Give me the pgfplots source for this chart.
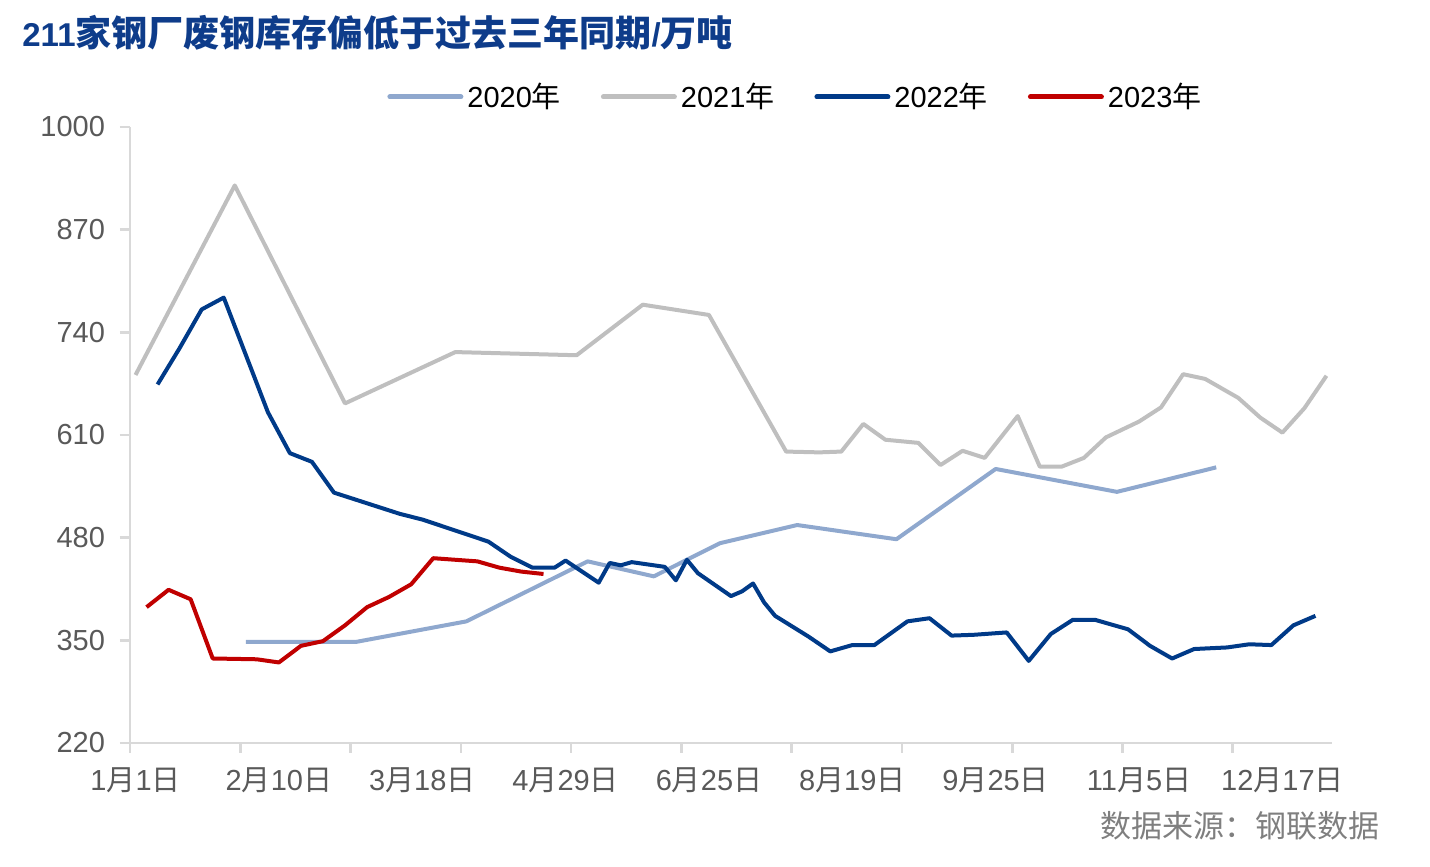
\documentclass[border=0pt]{standalone}
\usepackage{fontspec}
\setmainfont{Liberation Sans}
\newfontfamily\cjk{Noto Sans CJK SC}
\usepackage{pgfplots}
\pgfplotsset{compat=1.18}
\usepackage{pgfplotstable}
\definecolor{c20}{HTML}{8FA8CE}
\definecolor{c21}{HTML}{BFBFBF}
\definecolor{c22}{HTML}{003A88}
\definecolor{c23}{HTML}{C00000}
\definecolor{axgray}{HTML}{D9D9D9}
\definecolor{txtgray}{HTML}{595959}
\definecolor{srcgray}{HTML}{7F7F7F}
\definecolor{titleblue}{HTML}{0E3C8A}

\pgfplotstableread{
x y
10 348
20 348
30 374
41 450
47 431
53 473
60 496
69 478
78 567
89 538
98 569
}\tA
\pgfplotstableread{
x y
0 686
9 926
19 650
29 715
40 711
46 775
52 762
59 589
62 588
64 589
66 624
68 604
71 600
73 572
75 590
77 581
80 634
82 570
84 570
86 581
88 607
91 627
93 645
95 687
97 681
100 657
102 632
104 613
106 644
108 685
}\tB
\pgfplotstableread{
x y
2 674
4 720
6 769
8 784
12 639
14 587
16 576
18 537
24 510
26 503
32 475
34 456
36 442
38 442
39 451
42 423
43 448
44 445
45 449
48 443
49 426
50 452
51 435
54 406
55 412
56 422
57 398
58 381
61 355
63 336
65 344
67 344
70 374
72 378
74 356
76 357
79 360
81 324
83 358
85 376
87 376
90 364
92 343
94 327
96 339
99 341
101 345
103 344
105 369
107 381
}\tC
\pgfplotstableread{
x y
1 392
3 414
5 402
7 327
11 326
13 322
15 343
17 349
19 369
21 392
23 405
25 421
27 454
31 450
33 442
35 437
37 434
}\tD

\begin{document}
\begin{tikzpicture}
\path[use as bounding box] (-65pt,-62pt) rectangle (650pt,371.5pt);
\begin{axis}[
  scale only axis, width=601pt, height=308pt,
  xmin=-0.5, xmax=108.5, ymin=220, ymax=1000,
  axis x line*=bottom, axis y line*=left,
  axis line style={axgray, line width=1.3pt},
  xtick={-0.5,9.5,...,99.5}, xticklabels={},
  extra x ticks={0,13,26,39,52,65,78,91,104},
  extra x tick labels={1{\cjk 月}1{\cjk 日},2{\cjk 月}10{\cjk 日},3{\cjk 月}18{\cjk 日},4{\cjk 月}29{\cjk 日},6{\cjk 月}25{\cjk 日},8{\cjk 月}19{\cjk 日},9{\cjk 月}25{\cjk 日},11{\cjk 月}5{\cjk 日},12{\cjk 月}17{\cjk 日}},
  extra x tick style={major tick length=0pt, xticklabel style={yshift=-9pt}},
  ytick={220,350,...,1000},
  yticklabel style={xshift=-4pt},
  tick align=outside, major tick length=5pt,
  tick style={axgray, line width=1.3pt},
  ticklabel style={font=\fontsize{14.5}{16}\selectfont, text=txtgray},
  /pgf/number format/assume math mode=true,
  /pgf/number format/1000 sep={},
  legend columns=4,
  legend style={at={(0.2138,1.0487)}, anchor=west, draw=none, fill=none,
    inner sep=0pt, font=\fontsize{14.5}{16}\selectfont,
    /tikz/every even column/.append style={column sep=18pt}},
  legend cell align=left,
  legend image code/.code={\draw[#1, line width=2.5pt, line cap=round] (0pt,0pt) -- (35.5pt,0pt);},
  every axis plot/.append style={line width=2pt, line join=round, no markers},
]
\addplot[c20] table[x=x,y=y] {\tA};
\addlegendentry{2020{\cjk 年}}
\addplot[c21] table[x=x,y=y] {\tB};
\addlegendentry{2021{\cjk 年}}
\addplot[c22] table[x=x,y=y] {\tC};
\addlegendentry{2022{\cjk 年}}
\addplot[c23] table[x=x,y=y] {\tD};
\addlegendentry{2023{\cjk 年}}
\end{axis}
\node[anchor=base west, text=titleblue, font=\bfseries\fontsize{16.5}{18}\selectfont, inner sep=0pt] at (-54pt,348pt) {211{\cjk\bfseries\fontsize{18}{19}\selectfont 家钢厂废钢库存偏低于过去三年同期}/{\cjk\bfseries\fontsize{18}{19}\selectfont 万吨}};
\node[anchor=base east, text=srcgray, inner sep=0pt] at (625pt,-47.5pt) {\cjk\fontsize{15.5}{17}\selectfont 数据来源：钢联数据};
\end{tikzpicture}
\end{document}
